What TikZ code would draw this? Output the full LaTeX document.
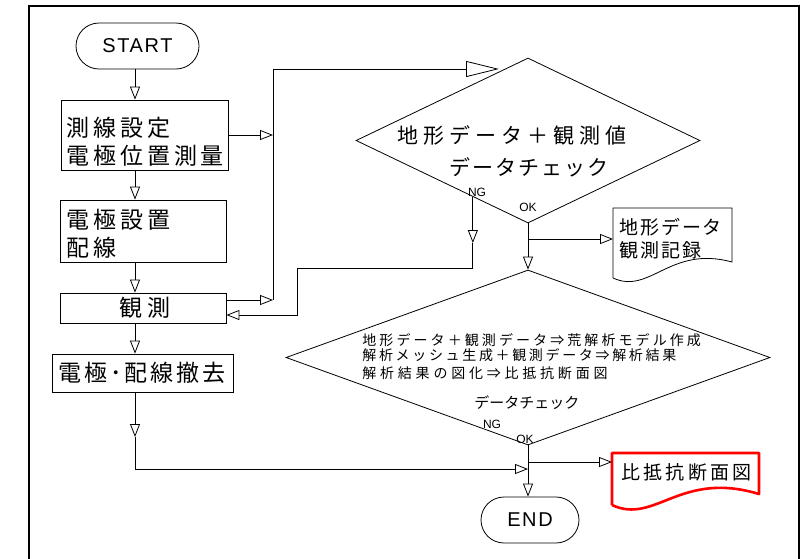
\documentclass[tikz,border=0pt]{standalone}
\usepackage{fontspec}
\setmainfont{Liberation Sans}
\newfontfamily\jp{Noto Sans CJK JP}
\usetikzlibrary{arrows.meta,shapes.geometric,calc}
\newcommand\jf[2]{\jp\fontsize{#1}{#1}\selectfont\addfontfeature{LetterSpace=#2}}
\newcommand\lf[2]{\fontsize{#1}{#1}\selectfont\addfontfeature{LetterSpace=#2}}
\begin{document}
\begin{tikzpicture}[x=1pt,y=-1pt,line width=0.8pt,
  box/.style={draw,rectangle,inner sep=0pt},
  term/.style={draw,rectangle,rounded corners=23pt,minimum height=46pt,inner sep=0pt,font=\lf{20}{8}},
  dia/.style={draw,diamond,inner sep=0pt,shape aspect=2},
  jt/.style={anchor=west,inner sep=0pt},
  lab/.style={inner sep=0pt,font=\lf{12}{0}},
  arr/.style={-{Triangle[length=13pt,width=10pt,fill=white]}},
  bigarr/.style={-{Triangle[length=33pt,width=16pt,fill=white]}},
  doc/.style={draw,line width=0.8pt},
]
\useasboundingbox (0,0) rectangle (810,558);
% frame
\draw[line width=2pt] (29,560) -- (29,6) -- (799,6) -- (799,560);

% terminals
\node[term,minimum width=123pt] (start) at (137.5,46) {START};
\node[term,minimum width=98pt] (end) at (530,520) {END};

% left column boxes
\node[box,minimum width=167pt,minimum height=70pt] (b1) at (144.5,135) {};
\node[jt,font=\jf{23}{17}] (t1a) at (66,128) {測線設定};
\node[jt,font=\jf{23}{17}] (t1b) at (66,156) {電極位置測量};

\node[box,minimum width=166pt,minimum height=62pt] (b2) at (143,231) {};
\node[jt,font=\jf{23}{17}] (t2a) at (66,220) {電極設置};
\node[jt,font=\jf{23}{17}] (t2b) at (66,248) {配線};

\node[box,minimum width=166pt,minimum height=30pt] (obs) at (143,308) {};
\node[jt,font=\jf{23}{24}] (t3) at (119,308) {観測};

\node[box,minimum width=181pt,minimum height=38pt] (b4) at (142.5,373) {};
\node[jt,font=\jf{23}{13}] (t4) at (58,373) {電極･配線撤去};

% diamonds
\node[dia,minimum width=344pt,minimum height=165pt] (d1) at (528,140.5) {};
\node[jt,font=\jf{21}{24}] (d1a) at (397,135) {地形データ＋観測値};
\node[jt,font=\jf{21}{10}] (d1b) at (449,167) {データチェック};
\node[lab] (ng1l) at (477,192) {NG};
\node[lab] (ok1l) at (528,207) {OK};

\node[dia,minimum width=484pt,minimum height=175pt] (d2) at (528,357.5) {};
\node[jt,font=\jf{14}{22}] (d2a) at (362,340) {地形データ＋観測データ⇒荒解析モデル作成};
\node[jt,font=\jf{14}{19}] (d2b) at (362,355.5) {解析メッシュ生成＋観測データ⇒解析結果};
\node[jt,font=\jf{14}{27}] (d2c) at (362,373) {解析結果の図化⇒比抵抗断面図};
\node[jt,font=\jf{15}{0}] (d2d) at (474,403) {データチェック};
\node[lab] (ng2l) at (492,424) {NG};
\node[lab] (ok2l) at (525,439) {OK};

% documents
\coordinate (doc1nw) at (613,208);
\coordinate (doc1ne) at (732,208);
\coordinate (doc1se) at (732,262);
\coordinate (doc1sw) at (613,278);
\draw[doc] (doc1sw) -- (doc1nw) -- (doc1ne) -- (doc1se)
  .. controls (670,245) and (650,295) .. (doc1sw);
\node[jt,font=\jf{19}{10}] (doc1a) at (619,227) {地形データ};
\node[jt,font=\jf{19}{10}] (doc1b) at (619,250) {観測記録};

\coordinate (doc2nw) at (612,453);
\coordinate (doc2ne) at (759,453);
\coordinate (doc2se) at (759,494);
\coordinate (doc2sw) at (612,505);
\draw[doc,red,line width=2.6pt,line join=round] (doc2sw) -- (doc2nw) -- (doc2ne) -- (doc2se)
  .. controls (680,470) and (655,525) .. (doc2sw);
\node[jt,font=\jf{19}{17}] (doc2a) at (621,472) {比抵抗断面図};

% connectors
\coordinate (cx) at (135,0);
\coordinate (vx) at (273,0);
\draw[arr] (start.south -| cx) -- (b1.north -| cx);
\draw[arr] (b1.south -| cx) -- (b2.north -| cx);
\draw[arr] (b2.south -| cx) -- (obs.north -| cx);
\draw[arr] (obs.south -| cx) -- (b4.north -| cx);

\coordinate (m1) at (135,437);
\coordinate (j2) at (528,469);
\draw[arr] (b4.south -| cx) -- (m1);
\draw[arr] (m1) |- (j2);

\draw[arr] (b1.east) -- (b1.east -| vx);
\coordinate (o1) at ($(obs.east)+(0,-8)$);
\coordinate (o1v) at (o1 -| vx);
\coordinate (d1in) at (499,69);
\draw[arr] (o1) -- (o1v);
\draw[bigarr] (o1v) |- (d1in);

\coordinate (ng0) at ($(d1.west)!0.68!(d1.south)$);
\coordinate (ng1) at (ng0 |- 0,243);
\coordinate (ng2) at (ng0 |- 0,268);
\coordinate (ng3) at (297,268);
\coordinate (o2) at ($(obs.east)+(0,7)$);
\draw[arr] (ng0) -- (ng1);
\draw[arr] (ng1) -- (ng2) -- (ng3) |- (o2);

\draw[arr] (d1.south) -- (d2.north);
\coordinate (k1) at (528,239);
\draw[arr] (k1) -- (k1 -| doc1nw);

\draw[arr] (d2.south) -- (d2.south |- end.north);
\coordinate (k2) at (528,462);
\draw[arr] (k2) -- (k2 -| doc2nw);
\end{tikzpicture}
\end{document}
